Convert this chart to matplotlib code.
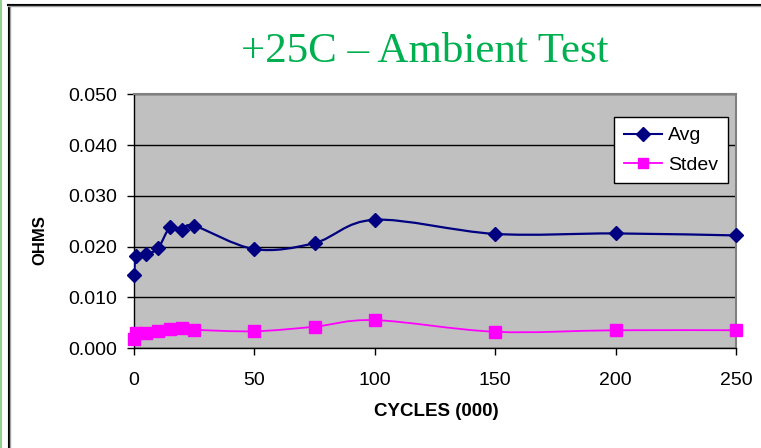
import numpy as np
import matplotlib
matplotlib.use('Agg')
import matplotlib.pyplot as plt
from matplotlib.path import Path
from matplotlib.patches import PathPatch
from matplotlib.lines import Line2D

# values
cycles = [0, 1, 5, 10, 15, 20, 25, 50, 75, 100, 150, 200, 250]
avg = [0.0143, 0.0182, 0.0185, 0.0197, 0.0238, 0.0232, 0.0241, 0.0195, 0.0207,
       0.0253, 0.0225, 0.0226, 0.0222]
stdev = [0.0018, 0.0030, 0.0030, 0.0033, 0.0037, 0.0039, 0.0036, 0.0033, 0.0042,
         0.0055, 0.0032, 0.0035, 0.0035]
xticks = [0, 50, 100, 150, 200, 250]
yticks = [0.0, 0.01, 0.02, 0.03, 0.04, 0.05]

W, H = 761, 448


def smooth_path(x, y):
    # excel style smoothed line: cubic bezier segments through every point
    p = np.column_stack([x, y]).astype(float)
    ext = np.vstack([p[0], p, p[-1]])
    verts = [p[0]]
    codes = [Path.MOVETO]
    for i in range(len(p) - 1):
        p0, p1, p2, p3 = ext[i], ext[i + 1], ext[i + 2], ext[i + 3]
        c1 = p1 + (p2 - p0) / 6.0
        c2 = p2 - (p3 - p1) / 6.0
        verts += [c1, c2, p2]
        codes += [Path.CURVE4] * 3
    return Path(verts, codes)


fig = plt.figure(figsize=(W / 100, H / 100), dpi=100)
ax = fig.add_axes([134 / W, 1 - 348 / H, (736 - 134) / W, (348 - 94.5) / H])
ax.set_facecolor('#C0C0C0')

ax.set_xlim(0, 250)
ax.set_ylim(0, 0.05)
ax.set_yticks(yticks)
ax.set_xticks(xticks)
ax.set_yticklabels(['%.3f' % v for v in yticks])
ax.set_xticklabels([str(v) for v in xticks])
ax.grid(axis='y', color='black', linewidth=1)
ax.set_axisbelow(True)

for name in ['top', 'right']:
    ax.spines[name].set_color('#808080')
    ax.spines[name].set_linewidth(1.5)
for name in ['left', 'bottom']:
    ax.spines[name].set_color('black')
    ax.spines[name].set_linewidth(1)

ax.tick_params(axis='both', direction='out', length=5, width=1, colors='black',
               labelsize=14)
ax.tick_params(axis='y', pad=7)
ax.tick_params(axis='x', pad=12)
for lab in ax.get_xticklabels() + ax.get_yticklabels():
    lab.set_fontfamily('Liberation Sans')

ax.add_patch(PathPatch(smooth_path(cycles, avg), facecolor='none',
                       edgecolor='#000080', linewidth=1.6, zorder=3))
ax.add_patch(PathPatch(smooth_path(cycles, stdev), facecolor='none',
                       edgecolor='#FF00FF', linewidth=1.3, zorder=3))
ax.plot(cycles, avg, linestyle='none', marker='D', markersize=7.5,
        color='#000080', zorder=4, clip_on=False)
ax.plot(cycles, stdev, linestyle='none', marker='s', markersize=8,
        color='#FF00FF', zorder=4, clip_on=False)

handles = [Line2D([], [], color='#000080', marker='D', markersize=7, linewidth=1.5),
           Line2D([], [], color='#FF00FF', marker='s', markersize=7, linewidth=1.3)]
leg = ax.legend(handles, ['Avg', 'Stdev'], loc='upper right',
                bbox_to_anchor=((728 - 134) / 602, (348 - 117) / 253.5),
                frameon=True, fancybox=False, edgecolor='black', framealpha=1,
                borderpad=0.5, handlelength=2.0, labelspacing=0.6,
                handletextpad=0.3, borderaxespad=0,
                prop={'family': 'Liberation Sans', 'size': 14})
leg.get_frame().set_linewidth(1)

fig.text(425 / W, 1 - 52 / H, '+25C \u2013 Ambient Test', color='#00B050',
         fontsize=31, fontfamily='Liberation Serif', ha='center', va='center')
fig.text(436 / W, 1 - 412 / H, 'CYCLES (000)', fontsize=13.5, fontweight='bold',
         fontfamily='Liberation Sans', ha='center', va='center')
fig.text(40 / W, 1 - 240 / H, 'OHMS', fontsize=12, fontweight='bold',
         fontfamily='Liberation Sans', ha='center', va='center', rotation=90)

# outer frame lines of the slide
fig.add_artist(Line2D([1 / W, 1 / W], [0, 1], color='#90D090', linewidth=1.5))
fig.add_artist(Line2D([8.5 / W, 8.5 / W], [0, 1 - 5 / H], color='black', linewidth=1.5))
fig.add_artist(Line2D([10 / W, 10 / W], [0, 1 - 6 / H], color='#A0A0A0', linewidth=1))
fig.add_artist(Line2D([8 / W, 1], [1 - 5 / H, 1 - 5 / H], color='black', linewidth=1.5))
fig.add_artist(Line2D([8 / W, 1], [1 - 6.5 / H, 1 - 6.5 / H], color='#A0A0A0', linewidth=1))

fig.savefig('out.png', dpi=100)
